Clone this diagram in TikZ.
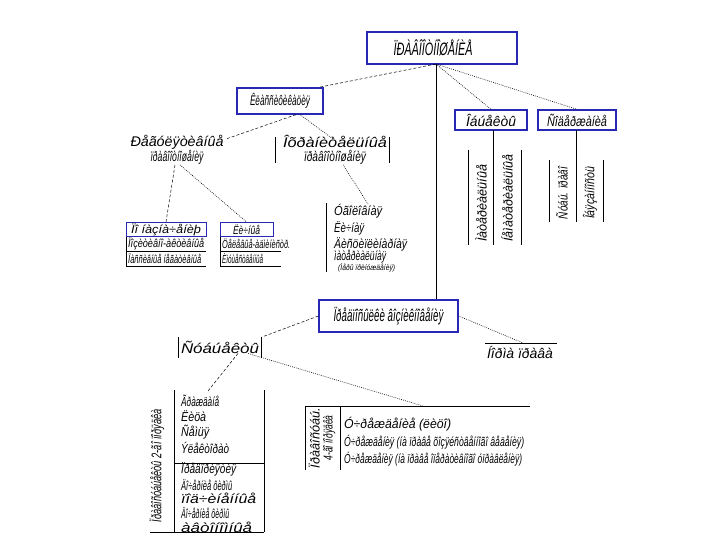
\documentclass[tikz,border=0pt]{standalone}
\usepackage{fontspec}
\setmainfont{Liberation Sans}
\usetikzlibrary{calc}
\definecolor{bx}{RGB}{40,40,180}
\newsavebox\fwbox
\newcommand\fw[2]{\sbox\fwbox{#2}\pgfmathsetmacro\fwf{#1/\wd\fwbox}\scalebox{\fwf}[1]{\usebox\fwbox}}
\tikzset{
 lbl/.style={inner sep=0pt, font=\fontsize{14}{14}\selectfont\itshape},
 sml/.style={inner sep=0pt, font=\fontsize{13}{13}\selectfont\itshape},
 lst/.style={inner sep=0pt, font=\fontsize{11.5}{12}\selectfont\itshape},
 bluebox/.style={draw=bx, line width=1.3pt, fill=white, inner sep=0pt, font=\fontsize{14}{14}\selectfont\itshape},
 dsh/.style={dash pattern=on 3pt off 2pt, line width=0.5pt},
 dtt/.style={dash pattern=on 0.8pt off 1.2pt, line width=0.6pt},
 ln/.style={line width=0.7pt},
}
\begin{document}
\begin{tikzpicture}[x=1pt,y=-1pt]
\useasboundingbox[fill=white] (0,0) rectangle (720,540);

% top
\node[bluebox, minimum width=150pt, minimum height=32pt] (topbox) at (442,48) {};
\node[inner sep=0pt, font=\fontsize{18}{18}\selectfont\itshape] (toptx) at (433,48) {\fw{79}{ÏÐÀÂÎÎÒÍÎØÅÍÈÅ}};
\coordinate (ts) at (436,64);

% classification
\node[bluebox, minimum width=86pt, minimum height=26pt] (klass) at (280,101) {\fw{60}{Êëàññèôèêàöèÿ}};
\node[lbl, align=center] (reg) at (177,150) {\fw{93}{Ðåãóëÿòèâíûå}\\\fw{53}{ïðàâîîòíîøåíèÿ}};
\node[lbl, align=center] (ohr) at (335,150) {\fw{104}{Îõðàíèòåëüíûå}\\\fw{62}{ïðàâîîòíîøåíèÿ}};
\draw[ln] (275,137) -- (275,163) (389,137) -- (389,163);

% right boxes
\node[bluebox, minimum width=72pt, minimum height=20pt] (A) at (491,120) {\fw{50}{Îáúåêòû}};
\node[bluebox, minimum width=78pt, minimum height=20pt] (B) at (577,120) {\fw{60}{Ñîäåðæàíèå}};
\draw[ln] (493,130) -- (493,245) (468,150) -- (468,245) (521,150) -- (521,245);
\node[sml, rotate=90] (a1) at (481,203) {\fw{77}{Ìàòåðèàëüíûå}};
\node[sml, rotate=90] (a2) at (507,198) {\fw{87}{Íåìàòåðèàëüíûå}};
\draw[ln] (576,130) -- (576,222) (549,160) -- (549,222) (603,160) -- (603,222);
\node[sml, rotate=90] (b1) at (562,193) {\fw{52}{Ñóáú. ïðàâî}};
\node[sml, rotate=90] (b2) at (590,193) {\fw{52}{Îáÿçàííîñòü}};

% top connectors
\draw[ln] (ts) -- (436,300);
\draw[dsh] (ts) -- ($(klass.north east)+(-5,0)$);
\draw[dtt] (ts) -- (A.north);
\draw[dtt] (ts) -- (B.north);
\draw[dsh] ($(klass.south)+(16,0)$) -- (226,139);
\draw[dtt] ($(klass.south)+(20,0)$) -- (333,139);

% left list
\node[bluebox, line width=1pt, minimum width=80pt, minimum height=14pt, font=\fontsize{11.5}{12}\selectfont\itshape] (lh) at (166,229.5) {\fw{70}{Ïî íàçíà÷åíèþ}};
\node[lst, anchor=west] (l2) at (128,244) {\fw{76}{Ïîçèòèâíî-àêòèâíûå}};
\node[lst, anchor=west] (l3) at (128,258.5) {\fw{73}{Ïàññèâíûå íåãàòèâíûå}};
\draw[ln] (126,237) -- (126,266) (126,251) -- (206,251) (126,266) -- (206,266);

% right list
\node[bluebox, line width=1pt, minimum width=53pt, minimum height=14pt, font=\fontsize{11.5}{12}\selectfont\itshape] (rh) at (246.5,229.5) {\fw{27}{Ëè÷íûå}};
\node[lst, anchor=west] (r2) at (222,244) {\fw{68}{Öåëåâûå-àäìèíèñòð.}};
\node[lst, anchor=west] (r3) at (222,258.5) {\fw{41}{Èìóùåñòâåííûå}};
\draw[ln] (220,237) -- (220,266) (220,251) -- (281,251) (220,266) -- (281,266);

\draw[dsh] ($(reg.south)+(-2,0)$) -- (lh.north);
\draw[dtt] ($(reg.south)+(3,0)$) -- (rh.north);

% ohr list
\draw[ln] (326,203) -- (326,272);
\node[sml, anchor=west] (o1) at (334,211) {\fw{48}{Óãîëîâíàÿ}};
\node[sml, anchor=west] (o2) at (334,228) {\fw{30}{Ëè÷íàÿ}};
\node[sml, anchor=west] (o3) at (334,244) {\fw{73}{Äèñöèïëèíàðíàÿ}};
\node[sml, anchor=west] (o4) at (334,257) {\fw{52}{ìàòåðèàëüíàÿ}};
\node[inner sep=0pt, font=\fontsize{8}{8}\selectfont\itshape, anchor=west] (o5) at (338,268) {\fw{57}{(Ìåðû ïðèíóæäåíèÿ)}};
\draw[dtt] ($(ohr.south)+(8,0)$) -- (368,204);

% middle
\node[bluebox, minimum width=139pt, minimum height=32pt, font=\fontsize{17}{17}\selectfont\itshape] (mid) at (388.5,316) {\fw{110}{Ïðåäïîñûëêè âîçíèêíîâåíèÿ}};

\node[lbl] (norm) at (520,352) {\fw{66}{Íîðìà ïðàâà}};
\draw[ln] (485,343) -- (557,343);
\draw[dtt] (mid.east) -- (523,343);

\node[lbl] (subj) at (220,347) {\fw{78}{Ñóáúåêòû}};
\draw[ln] (178,337) -- (178,358) (261,337) -- (261,358);
\draw[dsh] (mid.west) -- (262,337);

% left bottom block
\draw[ln] (174,390) -- (174,532) (264,390) -- (264,532) (174,463) -- (264,463) (150,532) -- (264,532);
\node[lbl, rotate=90] (vl) at (157,466) {\fw{113}{Ïðàâîñóáúåêòû 2-ãî ïîðÿäêà}};
\node[sml, anchor=west] (s1) at (181,401) {\fw{38}{Ãðàæäàíå}};
\node[sml, anchor=west] (s2) at (181,416) {\fw{25}{Ëèöà}};
\node[sml, anchor=west] (s3) at (181,432) {\fw{28}{Ñåìüÿ}};
\node[sml, anchor=west] (s4) at (181,448) {\fw{48}{Ýëåêòîðàò}};
\node[sml, anchor=west] (s5) at (181,469) {\fw{55}{Ïðåäïðèÿòèÿ}};
\node[sml, anchor=west] (s6) at (181,485) {\fw{51}{Äî÷åðíèå ôèðìû}};
\node[sml, anchor=west] (s7) at (181,498) {\fw{75}{ïîä÷èíåííûå}};
\node[sml, anchor=west] (s8) at (181,513) {\fw{48}{Äî÷åðíèå ôèðìû}};
\node[sml, anchor=west] (s9) at (181,527) {\fw{71}{àâòîíîìíûå}};
\coordinate (lbtop) at (208,391);
\draw[dsh] ($(subj.south)+(18,0)$) -- (lbtop);

% right bottom block
\draw[ln] (305,406) -- (305,470) (340,406) -- (340,470) (305,406) -- (530,406);
\node[sml, rotate=90, align=center] (vr) at (322,438) {\fw{60}{Ïðàâîñóáú.}\\\fw{45}{4-ãî ïîðÿäêà}};
\node[sml, anchor=west] (p1) at (344,424) {\fw{107}{Ó÷ðåæäåíèå (ëèöî)}};
\node[sml, anchor=west] (p2) at (344,442) {\fw{180}{Ó÷ðåæäåíèÿ (íà ïðàâå õîçÿéñòâåííîãî âåäåíèÿ)}};
\node[sml, anchor=west] (p3) at (344,459) {\fw{178}{Ó÷ðåæäåíèÿ (íà ïðàâå îïåðàòèâíîãî óïðàâëåíèÿ)}};
\coordinate (rbtop) at (423,406);
\draw[dtt] ($(subj.south)+(28,0)$) -- (rbtop);
\end{tikzpicture}
\end{document}
